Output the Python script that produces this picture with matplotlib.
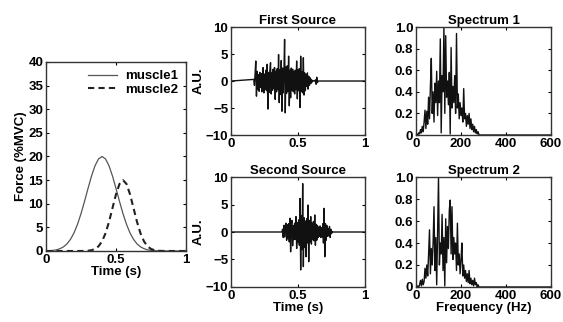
import numpy as np
import matplotlib
matplotlib.use("Agg")
import matplotlib.pyplot as plt

plt.rcParams['font.family'] = ['Liberation Sans', 'DejaVu Sans']
plt.rcParams['font.weight'] = 'bold'
plt.rcParams['axes.titleweight'] = 'bold'
plt.rcParams['axes.labelweight'] = 'bold'
plt.rcParams['font.size'] = 9.5

## Force profiles, sampled every 0.025 s from 0 to 1 s
force_time = np.linspace(0, 1, 41)
muscle1 = [0.03, 0.06, 0.13, 0.25, 0.49, 0.88, 1.51, 2.47, 3.83, 5.64, 7.89, 10.49, 13.23, 15.85,
           18.04, 19.49, 20.0, 19.49, 18.04, 15.85, 13.23, 10.49, 7.89, 5.64, 3.83, 2.47, 1.51,
           0.88, 0.49, 0.25, 0.13, 0.06, 0.03, 0, 0, 0, 0, 0, 0, 0, 0]
muscle2 = [0, 0, 0, 0, 0, 0, 0, 0, 0, 0, 0, 0.02, 0.06, 0.17, 0.43, 0.99, 2.03, 3.74, 6.17,
           9.10, 12.01, 14.19, 15.0, 14.19, 12.01, 9.10, 6.17, 3.74, 2.03, 0.99, 0.43, 0.17,
           0.06, 0.02, 0, 0, 0, 0, 0, 0, 0]

## Sources, sampled every 0.005 s
src1_start = 0.170
src1 = [0.3, -0.8, 1.5, 3.7, -2.8, 1.8, -1.6, 1.2, -1.9, 1.6, -1.2, 1.4, -2.0, 1.1, 2.5, -2.2,
        1.3, -1.5, 2.0, -1.8, 3.1, -5.2, 1.6, -2.1, 1.9, 3.4, -2.4, 1.5, -1.7, 2.2, -1.4, 2.5,
        -3.4, 1.8, -2.0, 2.3, -1.6, 4.9, -4.0, 2.1, -2.5, 3.8, -5.6, 2.4, -2.2, 1.9, 7.7, -5.9,
        2.6, -2.3, 2.8, -1.9, 4.6, -4.6, 2.0, -3.1, 2.4, -1.7, 2.2, -2.0, 1.8, -2.4, 2.0, -1.6,
        3.7, -3.3, 2.1, -1.8, 2.3, -4.9, 4.6, -2.0, 1.7, -2.2, 4.3, -2.6, 1.5, -1.8, 1.2, -1.0,
        1.5, -1.5, 0.9, -0.8, 0.6, -0.5, 0.3, -0.2, 0.1, 0.0, 0.0, 0.0, 0.2, -0.6, 0.7, -0.3, 0.0]
src2_start = 0.380
src2 = [0.0, 0.5, -1.0, 1.2, -0.9, 1.1, 1.6, -1.5, 1.3, -1.2, 1.5, -1.8, 2.5, -3.6, 1.4, 2.1,
        -2.5, 1.2, -1.4, 1.6, -1.3, 2.8, -3.0, 1.7, -1.9, 2.2, -2.4, 6.1, -6.9, 3.0, -3.2, 8.8,
        -6.3, 2.6, -2.8, 2.0, -4.5, 2.4, -2.0, 4.9, -5.4, 2.1, -1.8, 2.8, -2.2, 1.6, -1.4, 1.9,
        -1.6, 3.1, -2.4, 1.4, -1.5, 1.2, -1.0, 0.9, -0.8, 1.1, -1.0, 0.8, -0.9, 1.5, -2.0, 4.3,
        -4.5, 1.5, -1.5, 1.2, -0.8, 0.6, -0.7, 1.0, -1.0, 0.5, -0.3, 0.1, 0.0]

## Normalised spectra, every 4 Hz from 0 to 280 Hz (zero above)
spec1 = [0.0, 0.01, 0.0, 0.02, 0.01, 0.05, 0.02, 0.08, 0.03, 0.12, 0.23, 0.06, 0.22, 0.10, 0.35,
         0.15, 0.45, 0.71, 0.20, 0.40, 0.12, 0.48, 0.30, 0.59, 0.18, 0.50, 0.30, 0.89, 0.02, 0.55,
         0.40, 1.0, 0.20, 0.92, 0.35, 0.50, 0.28, 0.58, 0.01, 0.81, 0.25, 0.45, 0.30, 0.55, 0.20,
         0.94, 0.25, 0.38, 0.15, 0.30, 0.18, 0.25, 0.12, 0.43, 0.15, 0.20, 0.08, 0.18, 0.10, 0.20,
         0.06, 0.15, 0.05, 0.10, 0.03, 0.08, 0.02, 0.05, 0.01, 0.03, 0.0]
spec2 = [0.0, 0.0, 0.01, 0.0, 0.02, 0.06, 0.01, 0.07, 0.02, 0.05, 0.17, 0.08, 0.20, 0.10, 0.30,
         0.52, 0.12, 0.35, 0.20, 0.40, 0.73, 0.15, 0.45, 0.02, 0.50, 1.0, 0.20, 0.40, 0.30, 0.66,
         0.15, 0.45, 0.01, 0.62, 0.22, 0.55, 0.35, 0.70, 0.79, 0.30, 0.73, 0.25, 0.45, 0.30, 0.40,
         0.15, 0.58, 0.20, 0.30, 0.12, 0.25, 0.40, 0.10, 0.20, 0.08, 0.15, 0.05, 0.12, 0.04, 0.15,
         0.03, 0.08, 0.02, 0.06, 0.01, 0.08, 0.02, 0.04, 0.0, 0.02, 0.0]


def style(ax):
    ax.tick_params(direction='in', top=True, right=True, length=2.5, width=0.8, pad=2,
                   labelsize=9.5)
    for sp in ax.spines.values():
        sp.set_linewidth(1.0)
        sp.set_color('#333333')


def source_series(start, vals):
    t = start + 0.005 * np.arange(len(vals))
    return np.concatenate([[0], t, [1]]), np.concatenate([[0], vals, [0]])


def spec_series(vals):
    f = 4.0 * np.arange(len(vals))
    return np.concatenate([f, [600]]), np.concatenate([vals, [0]])


fig = plt.figure(figsize=(5.63, 3.22), dpi=100)

# force panel
ax0 = fig.add_axes([0.0817, 0.2205, 0.2487, 0.587])
ax0.plot(force_time, muscle1, color='#555555', lw=0.9, label='muscle1')
ax0.plot(force_time, muscle2, color='#222222', lw=1.5, ls=(0, (3, 2)), label='muscle2')
ax0.set_xlim(0, 1)
ax0.set_ylim(0, 40)
ax0.set_yticks(range(0, 41, 5))
ax0.set_xticks([0, 0.5, 1])
ax0.set_xticklabels(['0', '0.5', '1'])
ax0.set_xlabel('Time (s)', labelpad=0)
ax0.set_ylabel('Force (%MVC)', labelpad=1)
ax0.legend(loc='upper right', frameon=False, fontsize=9.5, handlelength=2.2,
           borderaxespad=0.2, labelspacing=0.1, handletextpad=0.6)
style(ax0)

# sources
t1, v1 = source_series(src1_start, src1)
t2, v2 = source_series(src2_start, src2)
ax1 = fig.add_axes([0.4103, 0.5807, 0.238, 0.3354])
ax1.plot(t1, v1, color='#111111', lw=1.0)
ax1.set_title('First Source', pad=2, fontsize=9.5)
ax2 = fig.add_axes([0.4103, 0.1087, 0.238, 0.3416])
ax2.plot(t2, v2, color='#111111', lw=1.0)
ax2.set_title('Second Source', pad=2, fontsize=9.5)
ax2.set_xlabel('Time (s)', labelpad=0)
for ax in (ax1, ax2):
    ax.set_xlim(0, 1)
    ax.set_ylim(-10, 10)
    ax.set_yticks([-10, -5, 0, 5, 10])
    ax.set_xticks([0, 0.5, 1])
    ax.set_xticklabels(['0', '0.5', '1'])
    ax.set_ylabel('A.U.', labelpad=1)
    style(ax)

# spectra
f1, s1 = spec_series(spec1)
f2, s2 = spec_series(spec2)
ax3 = fig.add_axes([0.7389, 0.5807, 0.2398, 0.3354])
ax3.plot(f1, s1, color='#111111', lw=1.0)
ax3.set_title('Spectrum 1', pad=2, fontsize=9.5)
ax4 = fig.add_axes([0.7389, 0.1087, 0.2398, 0.3416])
ax4.plot(f2, s2, color='#111111', lw=1.0)
ax4.set_title('Spectrum 2', pad=2, fontsize=9.5)
ax4.set_xlabel('Frequency (Hz)', labelpad=0)
for ax in (ax3, ax4):
    ax.set_xlim(0, 600)
    ax.set_ylim(0, 1)
    ax.set_yticks([0, 0.2, 0.4, 0.6, 0.8, 1.0])
    ax.set_yticklabels(['0', '0.2', '0.4', '0.6', '0.8', '1.0'])
    ax.set_xticks([0, 200, 400, 600])
    style(ax)

fig.savefig('out.png', dpi=100)
